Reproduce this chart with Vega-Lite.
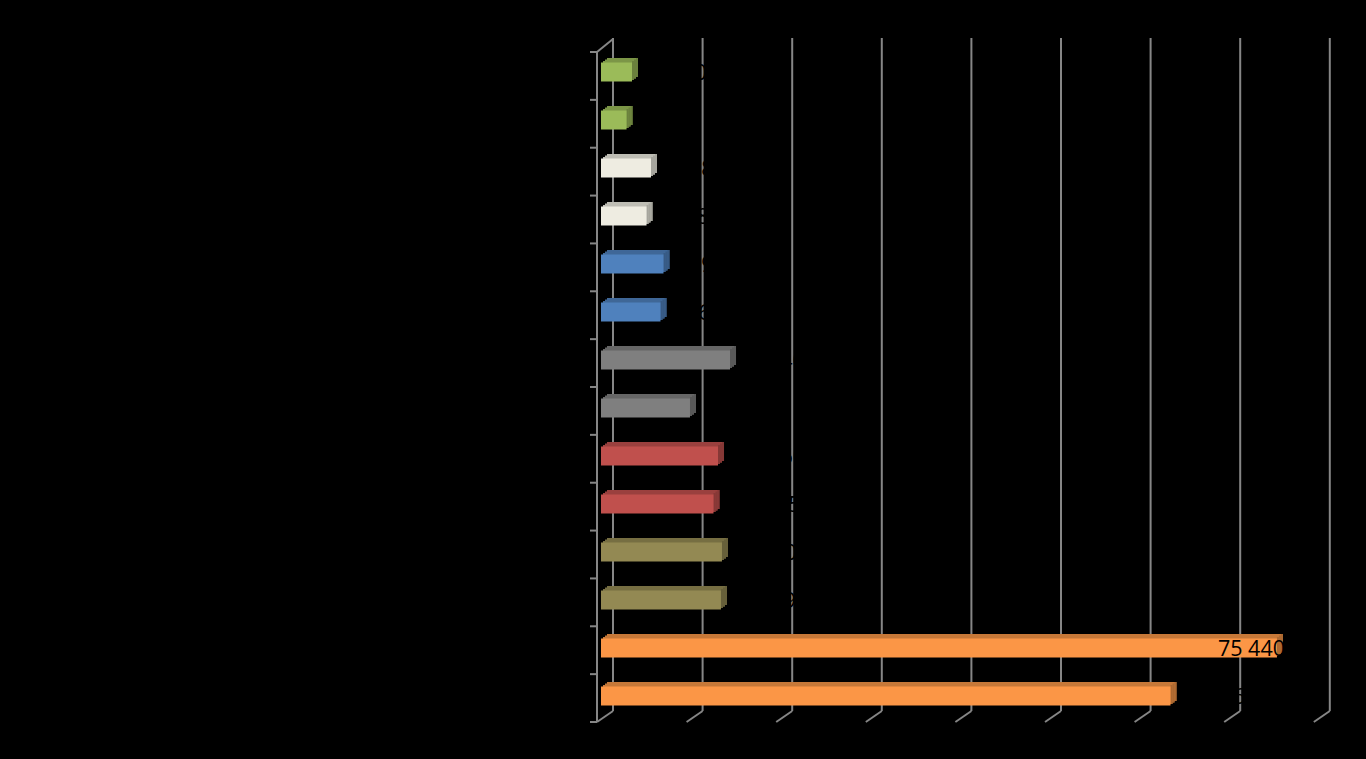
{"$schema":"https://vega.github.io/schema/vega-lite/v6.json","width":716.8,"height":670,"autosize":{"type":"none"},"padding":{"left":597,"top":52,"right":52.2,"bottom":37},"background":"#000000","view":{"stroke":null},"config":{"axis":{"disable":true},"legend":{"disable":true}},"datasets":{"bars":[{"row":1,"group":"G1","value":3460,"label":"3 460"},{"row":2,"group":"G1","value":2850,"label":"2 850"},{"row":3,"group":"G2","value":5580,"label":"5 580"},{"row":4,"group":"G2","value":5080,"label":"5 080"},{"row":5,"group":"G3","value":6975,"label":"6 975"},{"row":6,"group":"G3","value":6640,"label":"6 640"},{"row":7,"group":"G4","value":14400,"label":"14 400"},{"row":8,"group":"G4","value":9930,"label":"9 930"},{"row":9,"group":"G5","value":13060,"label":"13 060"},{"row":10,"group":"G5","value":12555,"label":"12 555"},{"row":11,"group":"G6","value":13500,"label":"13 500"},{"row":12,"group":"G6","value":13390,"label":"13 390"},{"row":13,"group":"G7","value":75440,"label":"75 440"},{"row":14,"group":"G7","value":63560,"label":"63 560"}],"ticks":[{"v":0},{"v":10000},{"v":20000},{"v":30000},{"v":40000},{"v":50000},{"v":60000},{"v":70000},{"v":80000}],"levels":[{"l":0},{"l":1},{"l":2},{"l":3},{"l":4},{"l":5},{"l":6},{"l":7},{"l":8},{"l":9},{"l":10},{"l":11},{"l":12},{"l":13},{"l":14}]},"resolve":{"scale":{"y":"independent","color":"independent"}},"layer":[{"data":{"name":"ticks"},"mark":{"type":"rule","stroke":"#868686","strokeWidth":2,"xOffset":16,"x2Offset":16,"yOffset":-14,"y2Offset":-11},"encoding":{"x":{"field":"v","type":"quantitative","scale":{"domain":[0,80000],"nice":false,"zero":false}},"x2":{"field":"v"},"y":{"datum":14,"type":"quantitative","scale":{"domain":[0,14],"nice":false}},"y2":{"datum":0}}},{"data":{"name":"ticks"},"mark":{"type":"rule","stroke":"#868686","strokeWidth":2,"x2Offset":16,"y2Offset":-11},"encoding":{"x":{"field":"v","type":"quantitative"},"x2":{"field":"v"},"y":{"datum":0,"type":"quantitative","scale":{"domain":[0,14],"nice":false}},"y2":{"datum":0}}},{"data":{"name":"levels"},"mark":{"type":"rule","stroke":"#868686","strokeWidth":2,"xOffset":-7},"encoding":{"x":{"datum":0,"type":"quantitative"},"x2":{"datum":0},"y":{"field":"l","type":"quantitative","scale":{"domain":[0,14],"nice":false}},"y2":{"field":"l"}}},{"data":{"values":[{"l":14}]},"mark":{"type":"rule","stroke":"#868686","strokeWidth":2,"x2Offset":16,"y2Offset":-13},"encoding":{"x":{"datum":0,"type":"quantitative"},"x2":{"datum":0},"y":{"field":"l","type":"quantitative","scale":{"domain":[0,14],"nice":false}},"y2":{"field":"l"}}},{"data":{"name":"ticks"},"transform":[{"filter":"datum.v===0"}],"mark":{"type":"rule","stroke":"#868686","strokeWidth":2},"encoding":{"x":{"field":"v","type":"quantitative"},"y":{"datum":14,"type":"quantitative","scale":{"domain":[0,14],"nice":false}},"y2":{"datum":0}}},{"data":{"name":"bars"},"mark":{"type":"bar","size":19,"xOffset":10,"x2Offset":10,"yOffset":-4.5},"encoding":{"x":{"field":"value","type":"quantitative"},"x2":{"datum":0},"y":{"field":"row","type":"ordinal","scale":{"range":[-4,668],"paddingInner":0,"paddingOuter":0}},"color":{"field":"group","type":"nominal","scale":{"domain":["G1","G2","G3","G4","G5","G6","G7"],"range":["#7C9647","#BEBDB4","#3F6797","#666666","#9A403E","#766E42","#C67838"]}}}},{"data":{"name":"bars"},"mark":{"type":"bar","size":19,"xOffset":8,"x2Offset":8,"yOffset":-3},"encoding":{"x":{"field":"value","type":"quantitative"},"x2":{"datum":0},"y":{"field":"row","type":"ordinal","scale":{"range":[-4,668],"paddingInner":0,"paddingOuter":0}},"color":{"field":"group","type":"nominal","scale":{"domain":["G1","G2","G3","G4","G5","G6","G7"],"range":["#7C9647","#BEBDB4","#3F6797","#666666","#9A403E","#766E42","#C67838"]}}}},{"data":{"name":"bars"},"mark":{"type":"bar","size":19,"xOffset":6,"x2Offset":6,"yOffset":-1.5},"encoding":{"x":{"field":"value","type":"quantitative"},"x2":{"datum":0},"y":{"field":"row","type":"ordinal","scale":{"range":[-4,668],"paddingInner":0,"paddingOuter":0}},"color":{"field":"group","type":"nominal","scale":{"domain":["G1","G2","G3","G4","G5","G6","G7"],"range":["#7C9647","#BEBDB4","#3F6797","#666666","#9A403E","#766E42","#C67838"]}}}},{"data":{"name":"bars"},"mark":{"type":"bar","size":19,"xOffset":10,"x2Offset":8,"yOffset":-4.5},"encoding":{"x":{"field":"value","type":"quantitative"},"x2":{"field":"value"},"y":{"field":"row","type":"ordinal","scale":{"range":[-4,668],"paddingInner":0,"paddingOuter":0}},"color":{"field":"group","type":"nominal","scale":{"domain":["G1","G2","G3","G4","G5","G6","G7"],"range":["#6B813D","#A6A59D","#375A84","#595959","#863836","#67603A","#AD6931"]}}}},{"data":{"name":"bars"},"mark":{"type":"bar","size":19,"xOffset":8,"x2Offset":6,"yOffset":-3},"encoding":{"x":{"field":"value","type":"quantitative"},"x2":{"field":"value"},"y":{"field":"row","type":"ordinal","scale":{"range":[-4,668],"paddingInner":0,"paddingOuter":0}},"color":{"field":"group","type":"nominal","scale":{"domain":["G1","G2","G3","G4","G5","G6","G7"],"range":["#6B813D","#A6A59D","#375A84","#595959","#863836","#67603A","#AD6931"]}}}},{"data":{"name":"bars"},"mark":{"type":"bar","size":19,"xOffset":6,"x2Offset":4,"yOffset":-1.5},"encoding":{"x":{"field":"value","type":"quantitative"},"x2":{"field":"value"},"y":{"field":"row","type":"ordinal","scale":{"range":[-4,668],"paddingInner":0,"paddingOuter":0}},"color":{"field":"group","type":"nominal","scale":{"domain":["G1","G2","G3","G4","G5","G6","G7"],"range":["#6B813D","#A6A59D","#375A84","#595959","#863836","#67603A","#AD6931"]}}}},{"data":{"name":"bars"},"mark":{"type":"bar","size":19,"xOffset":4,"x2Offset":4},"encoding":{"x":{"field":"value","type":"quantitative"},"x2":{"datum":0},"y":{"field":"row","type":"ordinal","scale":{"range":[-4,668],"paddingInner":0,"paddingOuter":0}},"color":{"field":"group","type":"nominal","scale":{"domain":["G1","G2","G3","G4","G5","G6","G7"],"range":["#9BBB59","#EEECE1","#4F81BD","#7F7F7F","#C0504D","#938953","#FB9646"]}}}},{"data":{"name":"bars"},"transform":[{"filter":"datum.row!==13"}],"mark":{"type":"text","align":"left","baseline":"middle","dx":24,"dy":2,"font":"Open Sans","fontSize":21.5,"fill":"#000000"},"encoding":{"x":{"field":"value","type":"quantitative"},"text":{"field":"label"},"y":{"field":"row","type":"ordinal","scale":{"domain":[1,2,3,4,5,6,7,8,9,10,11,12,13,14],"range":[-4,668],"paddingInner":0,"paddingOuter":0}}}},{"data":{"name":"bars"},"transform":[{"filter":"datum.row===13"}],"mark":{"type":"text","align":"left","baseline":"middle","dx":-55,"dy":2,"font":"Open Sans","fontSize":21.5,"fill":"#000000"},"encoding":{"x":{"field":"value","type":"quantitative"},"text":{"field":"label"},"y":{"field":"row","type":"ordinal","scale":{"domain":[1,2,3,4,5,6,7,8,9,10,11,12,13,14],"range":[-4,668],"paddingInner":0,"paddingOuter":0}}}}]}
